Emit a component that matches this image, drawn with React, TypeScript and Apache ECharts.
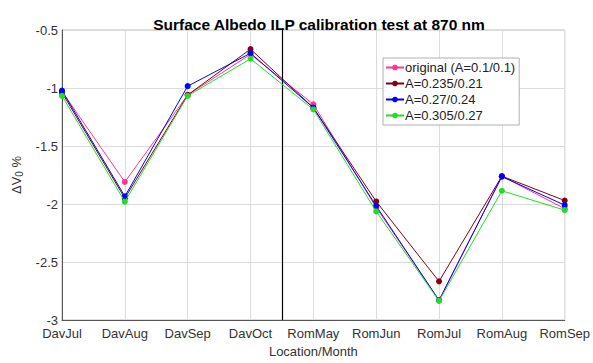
import React, { useEffect, useRef } from "react";
import * as echarts from "echarts";

const categories = ["DavJul", "DavAug", "DavSep", "DavOct", "RomMay", "RomJun", "RomJul", "RomAug", "RomSep"];
const seriesNames = ["original (A=0.1/0.1)", "A=0.235/0.21", "A=0.27/0.24", "A=0.305/0.27"];
const original = [-1.03, -1.81, -1.06, -0.71, -1.14, -2.03, -2.83, -1.76, -2.04];
const a235 = [-1.04, -1.95, -1.06, -0.665, -1.17, -1.978, -2.667, -1.76, -1.97];
const a27 = [-1.022, -1.934, -0.984, -0.70, -1.17, -2.017, -2.83, -1.764, -2.01];
const a305 = [-1.068, -1.98, -1.068, -0.748, -1.185, -2.064, -2.835, -1.886, -2.053];
const colors = ["#ff3399", "#800015", "#0000ff", "#22dd22"];
const yTicks = [-3, -2.5, -2, -1.5, -1, -0.5];
const dividerAt = 3.5;

const FONT = "Liberation Sans, Arial, Helvetica, sans-serif";

export default function App() {
  const ref = useRef<HTMLDivElement>(null);
  useEffect(() => {
    if (!ref.current) return;
    const chart = echarts.init(ref.current, undefined, { renderer: "svg" });
    const allSeries = [original, a235, a27, a305];
    chart.setOption({
      animation: false,
      backgroundColor: "#ffffff",
      textStyle: { fontFamily: FONT },
      title: {
        text: "Surface Albedo ILP calibration test at 870 nm",
        left: 314,
        textAlign: "center",
        top: 11,
        textStyle: { fontSize: 15.5, fontWeight: "bold", color: "#000", fontFamily: FONT },
      },
      grid: { left: 62, right: 26, top: 30, bottom: 34, show: true, borderColor: "#bdbdbd", borderWidth: 1 },
      legend: {
        orient: "vertical",
        left: 383,
        top: 58,
        padding: [3, 4, 3, 2],
        itemGap: 3,
        itemWidth: 18,
        itemHeight: 7,
        backgroundColor: "#ffffff",
        borderColor: "#b0b0b0",
        borderWidth: 1,
        borderRadius: 0,
        textStyle: { fontSize: 13, color: "#222", fontFamily: FONT, padding: [0, 0, 0, -4] },
        data: seriesNames,
      },
      xAxis: {
        type: "value",
        min: 0,
        max: 8,
        interval: 1,
        name: "Location/Month",
        nameLocation: "middle",
        nameGap: 25,
        nameTextStyle: { fontSize: 13, color: "#333", fontFamily: FONT },
        axisLine: { show: true, lineStyle: { color: "#555" } },
        axisTick: { show: false },
        axisLabel: {
          fontSize: 13,
          color: "#333",
          margin: 7,
          fontFamily: FONT,
          formatter: (v: number) => categories[Math.round(v)] ?? "",
        },
        splitLine: { show: true, lineStyle: { color: "#dcdcdc", width: 1 } },
      },
      yAxis: {
        type: "value",
        min: yTicks[0],
        max: yTicks[yTicks.length - 1],
        interval: 0.5,
        name: "{a|ΔV}{s|0}{a| %}",
        nameLocation: "middle",
        nameGap: 35,
        nameRotate: 90,
        nameTextStyle: {
          rich: {
            a: { fontSize: 13, color: "#333", fontFamily: FONT },
            s: { fontSize: 10, color: "#333", fontFamily: FONT, padding: [6, 0, 0, 0] },
          },
        },
        axisLine: { show: true, lineStyle: { color: "#555" } },
        axisTick: { show: false },
        axisLabel: {
          fontSize: 13,
          color: "#333",
          margin: 4,
          fontFamily: FONT,
          formatter: (v: number) => String(v),
        },
        splitLine: { show: true, lineStyle: { color: "#dcdcdc", width: 1 } },
      },
      series: allSeries.map((vals, si) => ({
        name: seriesNames[si],
        type: "line",
        data: vals.map((v, i) => [i, v]),
        symbol: "circle",
        symbolSize: 6,
        showSymbol: true,
        lineStyle: { width: 1, color: colors[si] },
        itemStyle: { color: colors[si] },
        z: 3 + si,
        markLine:
          si === 0
            ? {
                silent: true,
                symbol: "none",
                label: { show: false },
                lineStyle: { color: "#000", width: 1.2, type: "solid" },
                data: [{ xAxis: dividerAt }],
              }
            : undefined,
      })),
    });
    return () => chart.dispose();
  }, []);
  return <div ref={ref} style={{ width: 593, height: 363, position: "absolute", left: 0, top: 0 }} />;
}
